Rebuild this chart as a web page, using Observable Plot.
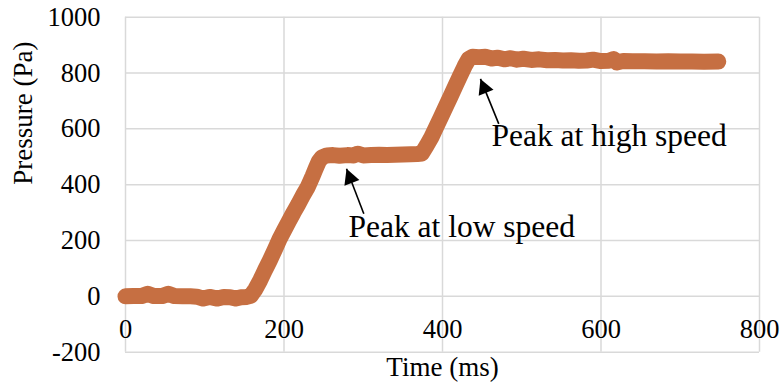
<!DOCTYPE html>
<html>
<head>
<meta charset="utf-8">
<script src="https://cdn.jsdelivr.net/npm/d3@7"></script>
<script src="https://cdn.jsdelivr.net/npm/@observablehq/plot@0.6"></script>
<style>
  html, body { margin: 0; padding: 0; background: #fff; }
  #chart svg { display: block; }
</style>
</head>
<body>
<div id="chart"></div>
<script>
// ---- data ----
const timeMs = [
  0, 10, 20, 28, 36, 46, 54, 62, 72, 82, 90, 98, 106, 116, 124, 132, 139, 146, 153, 158,
  164, 170, 176, 182, 188, 194, 200, 206, 212, 218, 224, 230, 236, 240, 244, 248,
  254, 262, 270, 280, 288, 293, 300, 310, 320, 330, 340, 350, 360, 368, 374,
  380, 386, 392, 398, 404, 410, 416, 422, 428, 433,
  438, 446, 454, 462, 470, 478, 486, 494, 502, 512, 522, 532, 542, 552, 562, 572, 582, 590,
  600, 610, 616, 620, 628, 640, 655, 670, 685, 700, 715, 730, 748
];
const pressurePa = [
  0, 1, 1, 9, 1, 1, 9, 1, 0, 0, -1, -8, -2, -8, -2, -3, -8, -3, -2, 2,
  26, 58, 94, 128, 165, 203, 236, 268, 300, 330, 362, 392, 430, 458, 484, 498,
  505, 506, 504, 506, 505, 511, 505, 506, 507, 506, 507, 508, 509, 510, 512,
  540, 570, 606, 642, 679, 715, 752, 789, 825, 850,
  858, 857, 858, 852, 855, 849, 853, 848, 851, 847, 849, 846, 847, 845, 846, 844, 845, 848,
  843, 844, 850, 838, 843, 842, 842, 841, 842, 841, 841, 840, 841
];
const xTicks = [0, 200, 400, 600, 800];
const yTicks = [-200, 0, 200, 400, 600, 800, 1000];
const xTitle = "Time (ms)";
const yTitle = "Pressure (Pa)";
const noteLabels = ["Peak at low speed", "Peak at high speed"];
const noteLabelT = [281.4, 461.8];
const noteLabelP = [249, 575];
const noteTipT = [278.9, 447.9];
const noteTipP = [457, 779];
const noteTailT = [300.7, 471.0];
const noteTailP = [296, 618];

// ---- build tables ----
const series = timeMs.map((t, i) => ({t, p: pressurePa[i]}));
const notes = noteLabels.map((text, i) => ({
  text, labelT: noteLabelT[i], labelP: noteLabelP[i],
  tipT: noteTipT[i], tipP: noteTipP[i], tailT: noteTailT[i], tailP: noteTailP[i]
}));

// filled arrowhead symbol with its tip at the origin, rotated by deg
function arrowHead(deg) {
  const a = deg * Math.PI / 180, c = Math.cos(a), s = Math.sin(a);
  const pts = [[0, 0], [-8, 15], [8, 15]].map(([x, y]) => [x * c - y * s, x * s + y * c]);
  return {
    draw(ctx) {
      ctx.moveTo(pts[0][0], pts[0][1]);
      ctx.lineTo(pts[1][0], pts[1][1]);
      ctx.lineTo(pts[2][0], pts[2][1]);
      ctx.closePath();
    }
  };
}

const serif = "'Liberation Serif', 'Times New Roman', serif";
const grid = "#d9d9d9";
const lineColor = "#c66f42";

const chart = Plot.plot({
  width: 782,
  height: 389,
  marginLeft: 125,
  marginRight: 23,
  marginTop: 16.7,
  marginBottom: 37.3,
  style: {fontFamily: serif, background: "#fff", color: "#000"},
  x: {domain: [0, 800], axis: null},
  y: {domain: [-200, 1000], axis: null},
  marks: [
    Plot.gridX(xTicks, {stroke: grid, strokeOpacity: 1, strokeWidth: 1.5}),
    Plot.gridY(yTicks, {stroke: grid, strokeOpacity: 1, strokeWidth: 1.5}),
    Plot.text(yTicks, {y: d => d, frameAnchor: "left", dx: -25, textAnchor: "end", text: d => String(d), fontSize: 26.5, fontFamily: serif, fill: "#000"}),
    Plot.text(xTicks, {x: d => d, y: d => 0, dy: 33, text: d => String(d), fontSize: 26.5, fontFamily: serif, fill: "#000"}),
    Plot.text([xTitle], {frameAnchor: "bottom", dy: 24, text: d => d, fontSize: 27, fontFamily: serif, fill: "#000"}),
    Plot.text([yTitle], {frameAnchor: "left", dx: -102, rotate: -90, text: d => d, fontSize: 27, fontFamily: serif, fill: "#000"}),
    Plot.line(series, {x: "t", y: "p", stroke: lineColor, strokeWidth: 16, strokeLinecap: "round", strokeLinejoin: "round"}),
    Plot.link(notes, {x1: "tailT", y1: "tailP", x2: "tipT", y2: "tipP", stroke: "#000", strokeWidth: 1.6}),
    Plot.dot([notes[0]], {x: "tipT", y: "tipP", symbol: arrowHead(-21), fill: "#000", stroke: "none"}),
    Plot.dot([notes[1]], {x: "tipT", y: "tipP", symbol: arrowHead(-22), fill: "#000", stroke: "none"}),
    Plot.text(notes, {x: "labelT", y: "labelP", text: "text", textAnchor: "start", fontSize: 31.5, fontFamily: serif, fill: "#000"})
  ]
});
document.getElementById("chart").appendChild(chart);
</script>
</body>
</html>
